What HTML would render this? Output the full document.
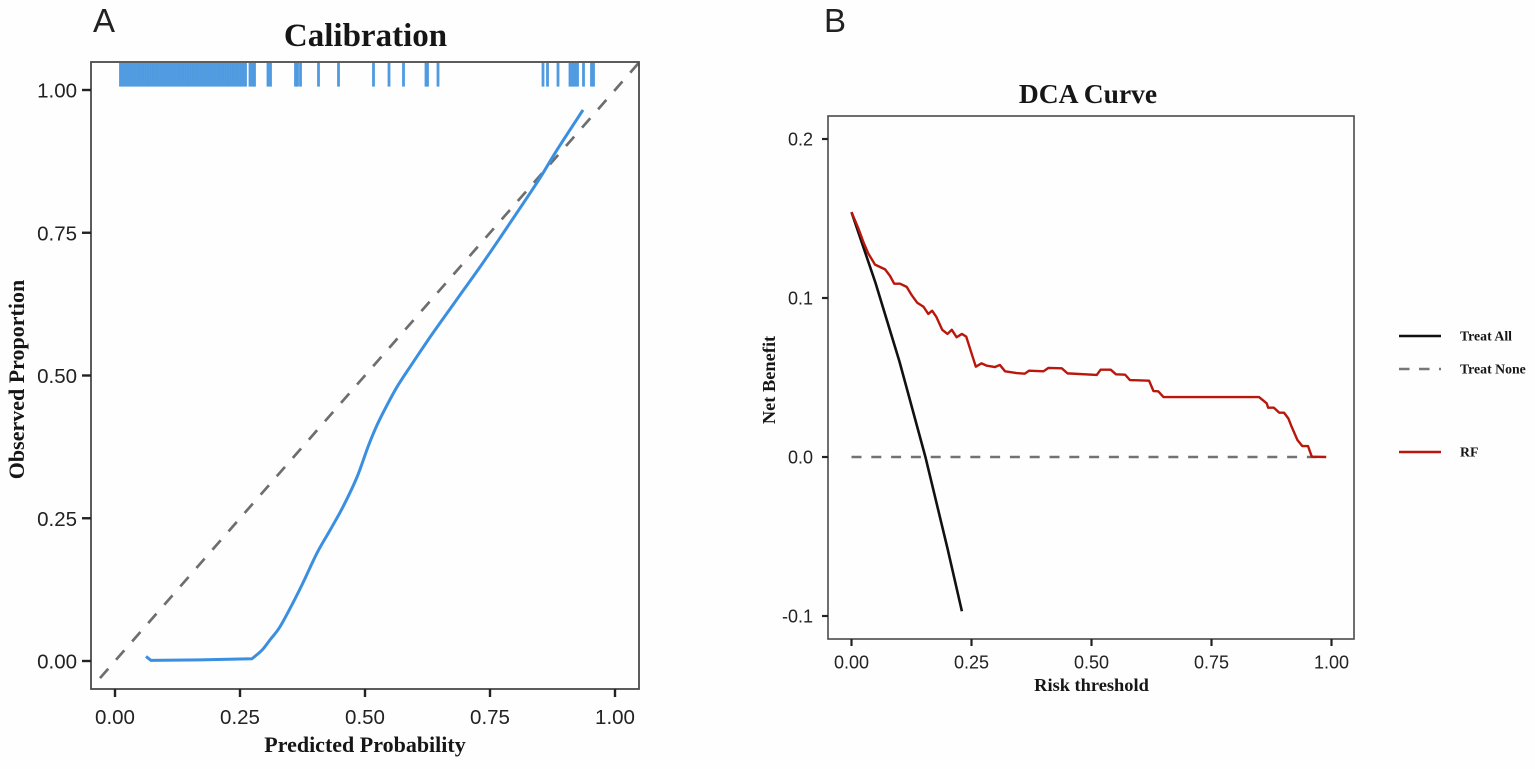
<!DOCTYPE html>
<html lang="en">
<head>
<meta charset="utf-8">
<title>Calibration and DCA Curves</title>
<style>
  html, body { margin: 0; padding: 0; background: #fefefe; }
  svg { display: block; filter: blur(0.35px); }
  .serif { font-family: "Liberation Serif", serif; font-weight: bold; fill: #161616; }
  .sans { font-family: "Liberation Sans", sans-serif; fill: #222; }
</style>
</head>
<body>
<svg id="figure" width="1535" height="769" viewBox="0 0 1535 769" xmlns="http://www.w3.org/2000/svg">
  <rect x="0" y="0" width="1535" height="769" fill="#fefefe"/>

  <text class="sans" x="93" y="32" font-size="33" fill="#111">A</text>
  <text class="sans" x="824" y="32" font-size="33" fill="#111">B</text>

  <g id="panel-a">
    <text class="serif" x="365.5" y="46" font-size="33" text-anchor="middle">Calibration</text>
    <text class="serif" x="365" y="752" font-size="22" text-anchor="middle">Predicted Probability</text>
    <text class="serif" transform="translate(24 379.5) rotate(-90)" font-size="22" text-anchor="middle">Observed Proportion</text>
    <g id="a-rug"></g>
    <g id="a-lines"></g>
    <rect x="91" y="62" width="548" height="627" fill="none" stroke="#4a4a4a" stroke-width="1.8"/>
    <g id="a-axes"></g>
  </g>

  <g id="panel-b">
    <text class="serif" x="1088" y="103" font-size="27.5" text-anchor="middle">DCA Curve</text>
    <text class="serif" x="1091.5" y="691" font-size="18.4" text-anchor="middle">Risk threshold</text>
    <text class="serif" transform="translate(775 380) rotate(-90)" font-size="18.4" text-anchor="middle">Net Benefit</text>
    <g id="b-lines"></g>
    <rect x="828" y="116" width="526" height="523" fill="none" stroke="#4a4a4a" stroke-width="1.6"/>
    <g id="b-axes"></g>
  </g>

  <g>
    <g>
      <line x1="1399" y1="336" x2="1441" y2="336" stroke="#111" stroke-width="2.6"/>
      <text class="serif" x="1460" y="340.5" font-size="13.8">Treat All</text>
    </g>
    <g>
      <line x1="1399" y1="369" x2="1441" y2="369" stroke="#777" stroke-width="2.4" stroke-dasharray="10.5 9.5"/>
      <text class="serif" x="1460" y="373.5" font-size="13.8">Treat None</text>
    </g>
    <g>
      <line x1="1399" y1="452" x2="1441" y2="452" stroke="#b9170c" stroke-width="2.4"/>
      <text class="serif" x="1460" y="456.5" font-size="13.8">RF</text>
    </g>
  </g>
</svg>

<script>
// Calibration panel data
const calTickValues = [0, 0.25, 0.5, 0.75, 1];
const calTickLabels = ["0.00", "0.25", "0.50", "0.75", "1.00"];
const calPredicted = [0.062, 0.072, 0.17, 0.274, 0.294, 0.31, 0.33, 0.356, 0.376, 0.404, 0.43, 0.456, 0.484, 0.506, 0.524, 0.544, 0.564, 0.59, 0.626, 0.65, 0.69, 0.73, 0.77, 0.81, 0.85, 0.884, 0.936];
const calObserved = [0.008, 0.001, 0.002, 0.004, 0.019, 0.037, 0.06, 0.102, 0.137, 0.189, 0.229, 0.27, 0.322, 0.375, 0.413, 0.448, 0.48, 0.515, 0.562, 0.592, 0.641, 0.69, 0.741, 0.793, 0.846, 0.895, 0.965];
const calReference = [-0.03, 1.047];
const rugValues = [0.011, 0.016, 0.021, 0.026, 0.031, 0.036, 0.041, 0.046, 0.051, 0.056, 0.061, 0.066, 0.071, 0.076, 0.081, 0.086, 0.091, 0.096, 0.101, 0.106, 0.111, 0.116, 0.121, 0.126, 0.131, 0.136, 0.141, 0.146, 0.151, 0.156, 0.161, 0.166, 0.171, 0.176, 0.181, 0.186, 0.191, 0.196, 0.201, 0.206, 0.211, 0.216, 0.221, 0.226, 0.231, 0.236, 0.241, 0.246, 0.251, 0.256, 0.261, 0.27, 0.275, 0.279, 0.306, 0.311, 0.361, 0.365, 0.371, 0.407, 0.447, 0.517, 0.548, 0.577, 0.622, 0.625, 0.646, 0.856, 0.865, 0.886, 0.91, 0.915, 0.92, 0.925, 0.937, 0.953, 0.957];

// DCA panel data
const dcaXTickValues = [0, 0.25, 0.5, 0.75, 1];
const dcaXTickLabels = ["0.00", "0.25", "0.50", "0.75", "1.00"];
const dcaYTickValues = [-0.1, 0, 0.1, 0.2];
const dcaYTickLabels = ["-0.1", "0.0", "0.1", "0.2"];
const thresholds = [0, 0.014, 0.025, 0.035, 0.049, 0.07, 0.08, 0.089, 0.101, 0.115, 0.125, 0.137, 0.15, 0.16, 0.168, 0.177, 0.189, 0.2, 0.209, 0.219, 0.23, 0.239, 0.259, 0.271, 0.282, 0.299, 0.309, 0.32, 0.344, 0.361, 0.37, 0.4, 0.41, 0.438, 0.45, 0.511, 0.519, 0.54, 0.551, 0.57, 0.58, 0.62, 0.629, 0.639, 0.65, 0.849, 0.865, 0.868, 0.88, 0.891, 0.901, 0.91, 0.917, 0.929, 0.939, 0.951, 0.959, 0.989];
const rfBenefit = [0.154, 0.144, 0.135, 0.128, 0.121, 0.118, 0.114, 0.109, 0.109, 0.107, 0.102, 0.097, 0.0945, 0.09, 0.092, 0.088, 0.08, 0.0774, 0.08, 0.0753, 0.0774, 0.0757, 0.0568, 0.0589, 0.0574, 0.0566, 0.0579, 0.0539, 0.0528, 0.0524, 0.0543, 0.0539, 0.056, 0.0558, 0.0526, 0.0516, 0.0549, 0.0549, 0.052, 0.0518, 0.0484, 0.048, 0.0415, 0.0413, 0.0377, 0.0377, 0.0338, 0.031, 0.031, 0.0279, 0.0279, 0.0243, 0.019, 0.0107, 0.0069, 0.0069, 0.0002, 0];
const treatAllThresholds = [0, 0.05, 0.1, 0.154, 0.2, 0.23];
const treatAllBenefit = [0.154, 0.1095, 0.06, 0, -0.0575, -0.097];
const treatNoneThresholds = [0, 0.97];
const treatNoneBenefit = [0, 0];

const NS = "http://www.w3.org/2000/svg";

// Axis functions
function calX(v) { return 115 + 500 * v; }
function calY(v) { return 661 - 571 * v; }
function dcaX(v) { return 851.5 + 480 * v; }
function dcaY(v) { return 457 - 1590 * v; }

function make(tag, parent, attrs) {
  const el = document.createElementNS(NS, tag);
  for (const key in attrs) el.setAttribute(key, attrs[key]);
  parent.appendChild(el);
  return el;
}
function pointsOf(xs, ys, fx, fy) {
  return xs.map(function (x, i) { return fx(x).toFixed(2) + "," + fy(ys[i]).toFixed(2); }).join(" ");
}
// Straight through the leading flat section, then a Catmull-Rom spline
function smoothPath(xs, ys, fx, fy, sharpUntil) {
  const p = xs.map(function (x, i) { return [fx(x), fy(ys[i])]; });
  let d = "M" + p[0][0].toFixed(2) + " " + p[0][1].toFixed(2);
  for (let i = 1; i < p.length; i++) {
    if (i <= sharpUntil) {
      d += " L" + p[i][0].toFixed(2) + " " + p[i][1].toFixed(2);
      continue;
    }
    const a = p[Math.max(i - 2, sharpUntil)];
    const b = p[i - 1];
    const c = p[i];
    const e = p[Math.min(i + 1, p.length - 1)];
    const c1x = b[0] + (c[0] - a[0]) / 6;
    const c1y = b[1] + (c[1] - a[1]) / 6;
    const c2x = c[0] - (e[0] - b[0]) / 6;
    const c2y = c[1] - (e[1] - b[1]) / 6;
    d += " C" + c1x.toFixed(2) + " " + c1y.toFixed(2) + " " + c2x.toFixed(2) + " " + c2y.toFixed(2) + " " + c[0].toFixed(2) + " " + c[1].toFixed(2);
  }
  return d;
}

const aRug = document.getElementById("a-rug");
const aLines = document.getElementById("a-lines");
const aAxes = document.getElementById("a-axes");
const bLines = document.getElementById("b-lines");
const bAxes = document.getElementById("b-axes");

// Rug
rugValues.forEach(function (v) {
  const el = make("line", aRug, { x1: calX(v), x2: calX(v), y1: 63, y2: 86.6, stroke: "#4f9ae0", "stroke-width": 2.8 });
  
  
});

// Calibration reference line and curve
const refLine = make("polyline", aLines, { points: pointsOf(calReference, calReference, calX, calY), fill: "none", stroke: "#6e6e6e", "stroke-width": 2.7, "stroke-dasharray": "12.5 11.89" });



const calCurve = make("path", aLines, { d: smoothPath(calPredicted, calObserved, calX, calY, 3), fill: "none", stroke: "#3a8fe0", "stroke-width": 3, "stroke-linejoin": "round" });



// Calibration axes
calTickValues.forEach(function (v, i) {
  const xt = make("line", aAxes, { x1: calX(v), x2: calX(v), y1: 689, y2: 697, stroke: "#222", "stroke-width": 2.4 });
  
  
  const xl = make("text", aAxes, { x: calX(v), y: 724, "font-size": 20.5, "text-anchor": "middle", class: "sans" });
  
  
  xl.textContent = calTickLabels[i];
  const yt = make("line", aAxes, { x1: 82, x2: 91, y1: calY(v), y2: calY(v), stroke: "#222", "stroke-width": 2.4 });
  
  
  const yl = make("text", aAxes, { x: 77, y: calY(v) + 7.5, "font-size": 20.5, "text-anchor": "end", class: "sans" });
  
  
  yl.textContent = calTickLabels[i];
});

// DCA lines
const noneLine = make("polyline", bLines, { points: pointsOf(treatNoneThresholds, treatNoneBenefit, dcaX, dcaY), fill: "none", stroke: "#727272", "stroke-width": 2.4, "stroke-dasharray": "10 9.8" });



const allLine = make("polyline", bLines, { points: pointsOf(treatAllThresholds, treatAllBenefit, dcaX, dcaY), fill: "none", stroke: "#111", "stroke-width": 2.6 });



const rfLine = make("polyline", bLines, { points: pointsOf(thresholds, rfBenefit, dcaX, dcaY), fill: "none", stroke: "#b9170c", "stroke-width": 2.4, "stroke-linejoin": "round" });



// DCA axes
dcaXTickValues.forEach(function (v, i) {
  const xt = make("line", bAxes, { x1: dcaX(v), x2: dcaX(v), y1: 639, y2: 646, stroke: "#222", "stroke-width": 2.2 });
  
  
  const xl = make("text", bAxes, { x: dcaX(v), y: 668.5, "font-size": 18, "text-anchor": "middle", class: "sans" });
  
  
  xl.textContent = dcaXTickLabels[i];
});
dcaYTickValues.forEach(function (v, i) {
  const yt = make("line", bAxes, { x1: 822, x2: 828, y1: dcaY(v), y2: dcaY(v), stroke: "#222", "stroke-width": 2.2 });
  
  
  const yl = make("text", bAxes, { x: 813, y: dcaY(v) + 6.5, "font-size": 18, "text-anchor": "end", class: "sans" });
  
  
  yl.textContent = dcaYTickLabels[i];
});
</script>
</body>
</html>
